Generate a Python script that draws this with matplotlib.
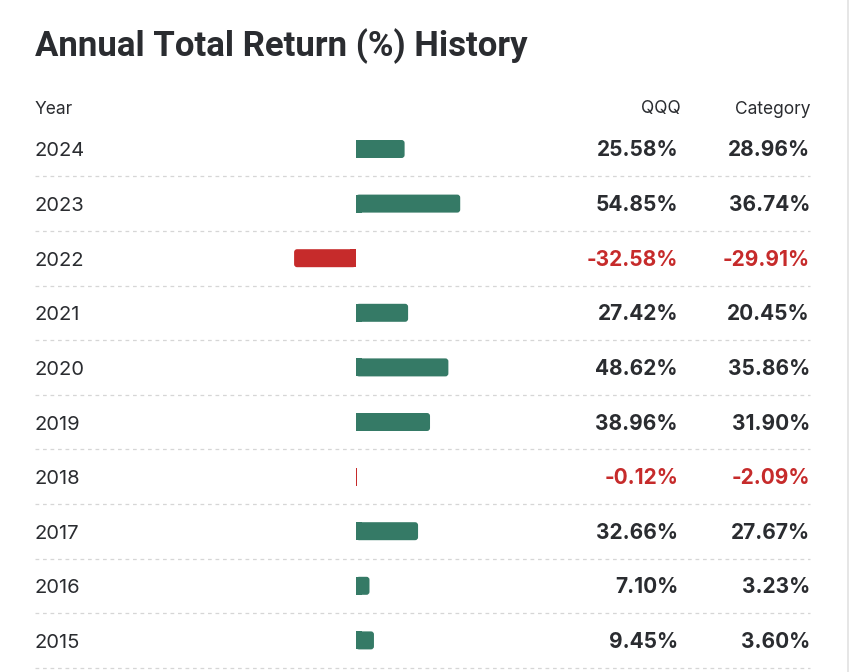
import matplotlib
matplotlib.use("Agg")
import matplotlib.pyplot as plt
from matplotlib.patches import FancyBboxPatch, Rectangle

# Data
years = ["2024", "2023", "2022", "2021", "2020", "2019", "2018", "2017", "2016", "2015"]
qqq = [25.58, 54.85, -32.58, 27.42, 48.62, 38.96, -0.12, 32.66, 7.10, 9.45]
category = [28.96, 36.74, -29.91, 20.45, 35.86, 31.90, -2.09, 27.67, 3.23, 3.60]
col_headers = ["Year", "QQQ", "Category"]
title = "Annual Total Return (%) History"

# Colours
GREEN = "#357a66"
RED = "#c62b2b"
TEXT = "#2a2c30"
GRID = "#d6d6d6"

W, H = 850, 672
fig = plt.figure(figsize=(W / 100, H / 100), dpi=100)
fig.patch.set_facecolor("white")
ax = fig.add_axes([0, 0, 1, 1])

# pixel layout -> data units (1.9 px per %, zero at x=356; rows 54.6 px apart)
zero_px, px_per = 356, 1.9
row0_px, row_h = 149, 54.6
def px2x(p):
    return (p - zero_px) / px_per
def px2y(p):
    return (p - row0_px) / row_h

ax.set_xlim(px2x(0), px2x(W))
ax.set_ylim(px2y(H), px2y(0))
ax.axis("off")

rows = list(range(len(years)))
colors = [GREEN if v >= 0 else RED for v in qqq]
bars = ax.barh(rows, qqq, height=18 / row_h, color=colors)

# round the outer end of each bar
rad = 3 / px_per
for b in bars:
    x0, y0, w, h = b.get_x(), b.get_y(), b.get_width(), b.get_height()
    col = b.get_facecolor()
    b.set_visible(False)
    left, right = min(x0, x0 + w), max(x0, x0 + w)
    width = right - left
    if width * px_per < 2:
        ax.add_patch(Rectangle((left, y0), max(width, 1 / px_per), h,
                               facecolor=col, lw=0))
        continue
    ax.add_patch(FancyBboxPatch((left, y0), width, h,
                                boxstyle=f"round,pad=0,rounding_size={rad}",
                                mutation_aspect=px_per / row_h,
                                facecolor=col, lw=0))
    # square off the end at zero
    sq = min(width, 2 * rad)
    sx = 0 if w >= 0 else -sq
    ax.add_patch(Rectangle((sx, y0), sq, h, facecolor=col, lw=0))

# dashed separators
for r in rows:
    ax.plot([px2x(35), px2x(810)], [r + 0.5, r + 0.5], color=GRID, lw=0.9,
            ls=(0, (3, 3)))

# right border
ax.plot([px2x(848), px2x(848)], [px2y(0), px2y(H)], color="#e2e2e2", lw=1.2)

font = ["Inter", "DejaVu Sans"]
base = 7.5 / row_h  # baseline offset below row centre

# header
hy = px2y(107) + base - 1 / row_h
ax.text(px2x(35), hy, col_headers[0], ha="left", va="baseline", fontsize=12.5,
        color=TEXT, family=font)
ax.text(px2x(681), hy, col_headers[1], ha="right", va="baseline", fontsize=12.5,
        color=TEXT, family=font)
ax.text(px2x(810), hy, col_headers[2], ha="right", va="baseline", fontsize=12.5,
        color=TEXT, family=font)

for r, yr, q, c in zip(rows, years, qqq, category):
    ax.text(px2x(35), r + base, yr, ha="left", va="baseline", fontsize=14.5,
            color=TEXT, family=font)
    ax.text(px2x(678), r + base, f"{q:.2f}%", ha="right", va="baseline",
            fontsize=15, fontweight="bold", color=TEXT if q >= 0 else RED,
            family=font)
    ax.text(px2x(810), r + base, f"{c:.2f}%", ha="right", va="baseline",
            fontsize=15, fontweight="bold", color=TEXT if c >= 0 else RED,
            family=font)

fig.text(35 / W, 1 - 46 / H, title, ha="left", va="center", fontsize=25,
         fontweight="bold", color=TEXT,
         family=["Liberation Sans Narrow", "Roboto", "DejaVu Sans"])

fig.savefig("out.png", dpi=100)
